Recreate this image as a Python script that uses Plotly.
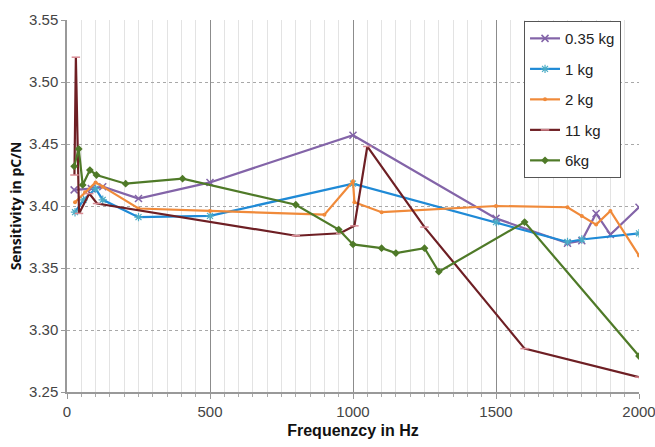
import plotly.graph_objects as go

# ---- data ----
f_035 = [25, 85, 125, 250, 500, 1000, 1500, 1750, 1800, 1850, 1900, 2000]
s_035 = [3.413, 3.414, 3.4156, 3.406, 3.419, 3.457, 3.390, 3.370, 3.372, 3.394, 3.377, 3.399]

f_1 = [28, 58, 100, 125, 250, 500, 1000, 1500, 1750, 1800, 2000]
s_1 = [3.395, 3.405, 3.414, 3.405, 3.391, 3.392, 3.418, 3.387, 3.371, 3.373, 3.378]

f_2 = [28, 63, 100, 125, 250, 500, 900, 1000, 1005, 1100, 1500, 1750, 1800, 1850, 1900, 2000]
s_2 = [3.403, 3.411, 3.419, 3.4156, 3.398, 3.396, 3.393, 3.420, 3.403, 3.395, 3.400, 3.399, 3.392, 3.385, 3.396, 3.360]

f_11 = [26, 31, 42, 78, 105, 800, 955, 1005, 1050, 1250, 1600, 2000]
s_11 = [3.425, 3.520, 3.394, 3.410, 3.402, 3.376, 3.378, 3.384, 3.448, 3.383, 3.285, 3.262]

f_6 = [25, 41, 55, 80, 103, 205, 404, 800, 950, 1000, 1100, 1150, 1250, 1300, 1600, 2000]
s_6 = [3.432, 3.446, 3.417, 3.429, 3.425, 3.418, 3.422, 3.401, 3.381, 3.369, 3.366, 3.362, 3.366, 3.347, 3.387, 3.279]

series = [
    ("0.35 kg", f_035, s_035, "#8364A8", dict(symbol="x-thin", size=7, line=dict(width=1.5, color="#8364A8"))),
    ("1 kg", f_1, s_1, "#1F8AD6", dict(symbol="asterisk", size=7, line=dict(width=1.2, color="#4BACC6"))),
    ("2 kg", f_2, s_2, "#F08A3A", dict(symbol="circle", size=4, color="#F08A3A")),
    ("11 kg", f_11, s_11, "#6E1F24", dict(symbol="line-ew", size=6, line=dict(width=1.5, color="#D98C95"))),
    ("6kg", f_6, s_6, "#4F7A28", dict(symbol="diamond", size=6, color="#4F7A28")),
]

x_ticks = [0, 500, 1000, 1500, 2000]
y_ticks = [3.25, 3.30, 3.35, 3.40, 3.45, 3.50, 3.55]

fig = go.Figure()
for i, (name, fx, sy, col, mk) in enumerate(series):
    fig.add_trace(go.Scatter(x=fx, y=sy, name=name, mode="lines+markers",
                             legendgroup="g%d" % i,
                             line=dict(color=col, width=2.2), marker=mk))

fig.update_layout(
    width=655, height=447,
    margin=dict(l=67, r=16, t=20, b=55),
    paper_bgcolor="white", plot_bgcolor="white",
    font=dict(family="Liberation Sans, Arial, sans-serif", size=14, color="#333"),
    showlegend=True,
    legend=dict(x=0.799, y=0.997, xanchor="left", yanchor="top",
                bordercolor="#555", borderwidth=1, bgcolor="white",
                font=dict(size=15, color="#222"), itemwidth=30,
                tracegroupgap=8),
)
fig.update_xaxes(
    range=[0, 2000], tickvals=x_ticks, ticktext=[str(v) for v in x_ticks],
    ticklabeloverflow="allow", automargin=False,
    showgrid=True, gridcolor="#8c8c8c", gridwidth=1,
    minor=dict(dtick=50, showgrid=True, gridcolor="#e3e3e3", gridwidth=1,
               ticks="outside", ticklen=3, tickcolor="#aaa"),
    showline=True, linecolor="#999", linewidth=1.5,
    ticks="outside", ticklen=5, tickcolor="#999",
    zeroline=False,
    title=dict(text="<b>Frequenzcy in Hz</b>", standoff=6,
               font=dict(family="Liberation Sans Narrow, Arial Narrow, Liberation Sans", size=16, color="#111")),
    tickfont=dict(size=15, color="#444"),
)
fig.update_yaxes(
    range=[3.25, 3.55], tickvals=y_ticks, ticktext=["%.2f" % v for v in y_ticks],
    automargin=False,
    showgrid=True, gridcolor="#a8a8a8", griddash="dot", gridwidth=1,
    showline=True, linecolor="#999", linewidth=1.5,
    ticks="outside", ticklen=4, tickcolor="#999",
    zeroline=False,
    title=dict(text="<b>Sensitivity in pC/N</b>", standoff=4,
               font=dict(family="Open Sans, DejaVu Sans", size=14, color="#111")),
    tickfont=dict(size=15, color="#444"),
)

fig.write_html("out.html")
